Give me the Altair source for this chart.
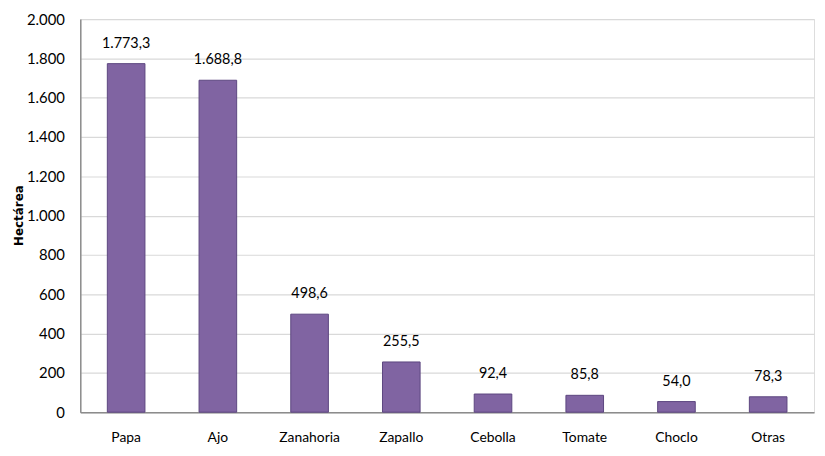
import altair as alt
import pandas as pd

categorias = ["Papa", "Ajo", "Zanahoria", "Zapallo", "Cebolla", "Tomate", "Choclo", "Otras"]
hectareas = [1773.3, 1688.8, 498.6, 255.5, 92.4, 85.8, 54.0, 78.3]


def fmt_es(v):
    s = f"{v:,.1f}"
    return s.replace(",", "X").replace(".", ",").replace("X", ".")


df = pd.DataFrame({
    "cultivo": categorias,
    "ha": hectareas,
    "etiqueta": [fmt_es(v) for v in hectareas],
})

FONT = "Lato"

base = alt.Chart(df).encode(
    x=alt.X(
        "cultivo:N",
        sort=categorias,
        scale=alt.Scale(paddingInner=0.59, paddingOuter=0.295),
        axis=alt.Axis(
            title=None, labelAngle=0, labelFont=FONT, labelFontSize=14,
            labelColor="#000000", labelPadding=19, ticks=False,
            domainColor="#8c8c8c", domainWidth=1.5,
        ),
    ),
    y=alt.Y(
        "ha:Q",
        scale=alt.Scale(domain=[0, 2000], nice=False),
        axis=alt.Axis(
            title="Hectárea", titleFont="DejaVu Sans", titleFontSize=12,
            titleFontWeight="bold", titleColor="#000000",
            titleX=-62, titleY=198, titleAngle=-90,
            titleAlign="center", titleBaseline="middle",
            values=list(range(0, 2001, 200)),
            labelExpr="replace(format(datum.value, ',d'), ',', '.')",
            labelFont=FONT, labelFontSize=15, labelColor="#000000",
            labelPadding=16, ticks=False,
            domainColor="#8c8c8c", domainWidth=1.5,
            gridColor="#d9d9d9", gridWidth=1.2,
        ),
    ),
)

bars = base.mark_bar(color="#8064A2", stroke="#5c4680", strokeWidth=1)
labels = base.mark_text(
    dy=-20, font=FONT, fontSize=14.5, color="#000000"
).encode(text="etiqueta:N")

chart = (
    alt.layer(bars, labels)
    .properties(
        width=741, height=397,
        autosize=alt.AutoSizeParams(type="none"),
        padding={"left": 73, "top": 9, "right": 3, "bottom": 34},
    )
    .configure_view(stroke=None)
    .configure(background="#ffffff")
)

chart.save("out.html", embed_options={"renderer": "svg", "actions": False})
